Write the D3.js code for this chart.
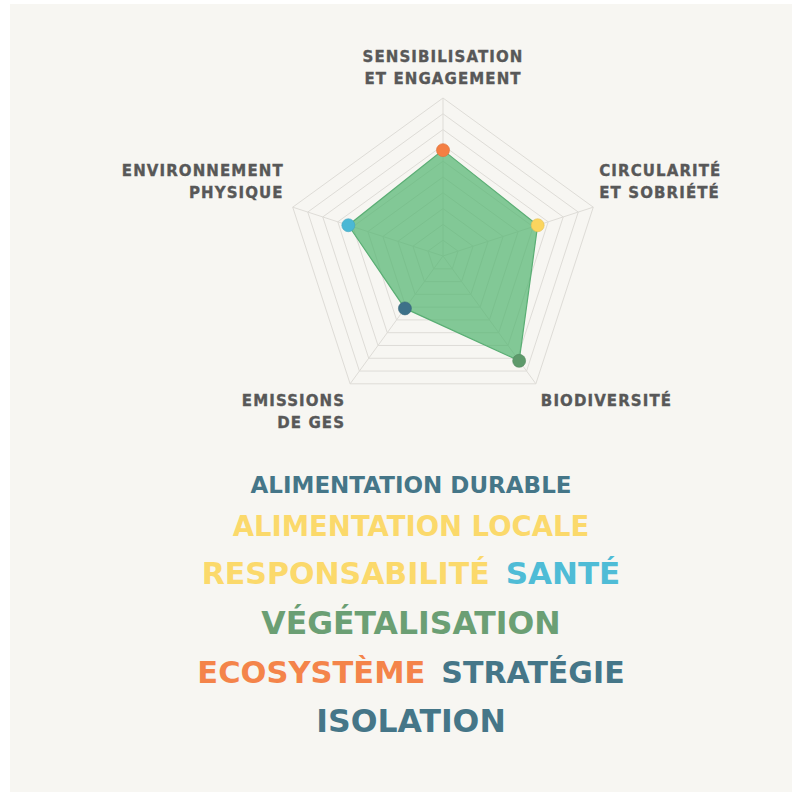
<!DOCTYPE html>
<html>
<head>
<meta charset="utf-8">
<script src="https://cdn.jsdelivr.net/npm/d3@7/dist/d3.min.js"></script>
<style>
  html, body { margin: 0; padding: 0; background: #ffffff; }
  svg { display: block; }
  text { font-family: "DejaVu Sans", Lato, sans-serif; font-weight: 700; }
</style>
</head>
<body>
<svg id="chart" width="800" height="792"></svg>
<script>
// Radar axes (clockwise from the top) and their scores out of 100
const axes = [
  ["SENSIBILISATION", "ET ENGAGEMENT"],
  ["CIRCULARITÉ", "ET SOBRIÉTÉ"],
  ["BIODIVERSITÉ"],
  ["EMISSIONS", "DE GES"],
  ["ENVIRONNEMENT", "PHYSIQUE"]
];
const scores = [67, 63, 82, 41, 63];
const dotColors = ["#f47f43", "#fbd55e", "#5e9a6b", "#3d7189", "#4bb8d5"];
const gridLevels = d3.range(1, 11).map(d => d * 10);

// Keyword cloud: words, weights (font size) and colours
const words = ["ALIMENTATION DURABLE", "ALIMENTATION LOCALE", "RESPONSABILITÉ", "SANTÉ",
               "VÉGÉTALISATION", "ECOSYSTÈME", "STRATÉGIE", "ISOLATION"];
const weights = [23, 27.5, 30, 31, 31.5, 30.5, 30, 31.5];
const wordColors = ["#457688", "#fbd96b", "#fbd96b", "#4fbcd6", "#6b9f74", "#f4844a", "#457688", "#457688"];

const svg = d3.select("#chart");

// background panel
svg.append("rect").attr("x", 10).attr("y", 4).attr("width", 782).attr("height", 790)
  .attr("fill", "#f7f6f2");

const cx = 443, cy = 256, R = 158;
const r = d3.scaleLinear().domain([0, 100]).range([0, R]);
const angle = d3.scaleLinear().domain([0, axes.length]).range([0, 2 * Math.PI]);
const pt = (i, v) => [cx + r(v) * Math.sin(angle(i)), cy - r(v) * Math.cos(angle(i))];

const g = svg.append("g");

// grid rings
const ringLine = d3.line();
g.selectAll("path.ring").data(gridLevels).join("path")
  .attr("class", "ring")
  .attr("d", lv => ringLine(axes.map((a, i) => pt(i, lv))) + "Z")
  .attr("fill", "none").attr("stroke", "#dedcd7").attr("stroke-width", 1);

// spokes
g.selectAll("line.spoke").data(axes).join("line")
  .attr("class", "spoke")
  .attr("x1", cx).attr("y1", cy)
  .attr("x2", (d, i) => pt(i, 100)[0]).attr("y2", (d, i) => pt(i, 100)[1])
  .attr("stroke", "#dedcd7").attr("stroke-width", 1);

// score polygon
g.append("path")
  .attr("d", d3.line()(scores.map((v, i) => pt(i, v))) + "Z")
  .attr("fill", "#55b672").attr("fill-opacity", 0.72)
  .attr("stroke", "#5aae74").attr("stroke-width", 1.2);

// score dots
g.selectAll("circle.dot").data(scores).join("circle")
  .attr("class", "dot")
  .attr("cx", (v, i) => pt(i, v)[0]).attr("cy", (v, i) => pt(i, v)[1])
  .attr("r", 6.5)
  .attr("fill", (v, i) => dotColors[i])
  .attr("stroke", (v, i) => d3.color(dotColors[i]).darker(0.3)).attr("stroke-width", 0.6);

// axis labels: anchor point offset from each outer vertex
const labelPlacement = [
  { dx: 0, dy: -36, anchor: "middle" },
  { dx: 6, dy: -31, anchor: "start" },
  { dx: 5, dy: 22, anchor: "start" },
  { dx: -5, dy: 22, anchor: "end" },
  { dx: -9, dy: -31, anchor: "end" }
];
const labels = g.selectAll("text.axis").data(axes).join("text")
  .attr("class", "axis")
  .attr("x", (d, i) => pt(i, 100)[0] + labelPlacement[i].dx)
  .attr("y", (d, i) => pt(i, 100)[1] + labelPlacement[i].dy)
  .attr("text-anchor", (d, i) => labelPlacement[i].anchor)
  .attr("fill", "#585858")
  .attr("font-size", 15)
  .attr("letter-spacing", 1.1)
  .attr("stroke", "#585858").attr("stroke-width", 0.35);
labels.each(function(d, i) {
  const t = d3.select(this);
  const x = t.attr("x");
  d.forEach((line, j) => t.append("tspan").attr("x", x).attr("dy", j === 0 ? 0 : 22).text(line));
});

// keyword cloud rows, centred
const rows = [[0], [1], [2, 3], [4], [5, 6], [7]];
const rowBaselines = [493, 536, 584, 634, 683, 732];
const cloudCenter = 411, gap = 16;
const cloud = svg.append("g");
rows.forEach((row, k) => {
  const items = row.map(w => cloud.append("text")
    .attr("y", rowBaselines[k])
    .attr("font-size", weights[w])
    .attr("fill", wordColors[w])
    .text(words[w]));
  const widths = items.map(t => t.node().getComputedTextLength());
  const total = d3.sum(widths) + gap * (items.length - 1);
  let x = cloudCenter - total / 2;
  items.forEach((t, j) => { t.attr("x", x); x += widths[j] + gap; });
});
</script>
</body>
</html>
